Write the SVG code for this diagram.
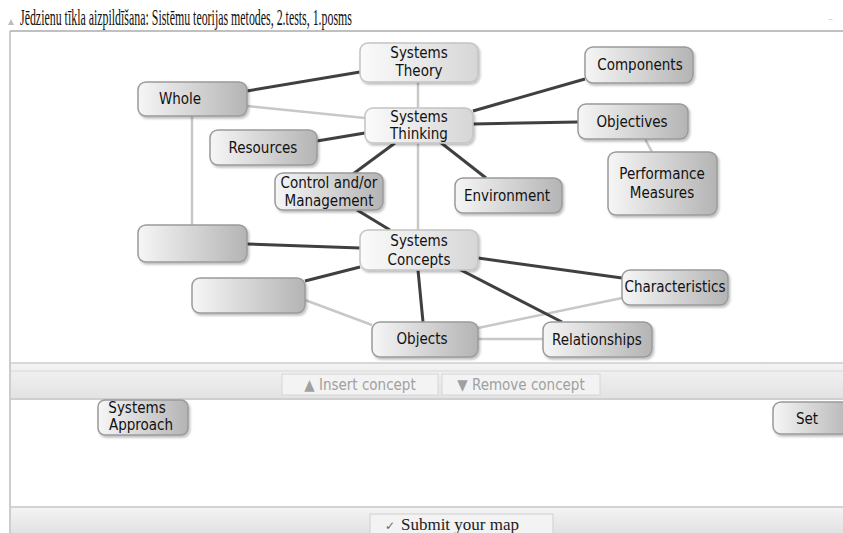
<svg xmlns="http://www.w3.org/2000/svg" width="843" height="533" viewBox="0 0 843 533">
  <defs>
    <linearGradient id="gNode" x1="0" y1="0" x2="1" y2="0">
      <stop offset="0" stop-color="#f6f6f6"/>
      <stop offset="1" stop-color="#b4b4b4"/>
    </linearGradient>
    <linearGradient id="gLight" x1="0" y1="0" x2="1" y2="0">
      <stop offset="0" stop-color="#fbfbfb"/>
      <stop offset="1" stop-color="#d6d6d6"/>
    </linearGradient>
    <linearGradient id="gBar" x1="0" y1="0" x2="0" y2="1">
      <stop offset="0" stop-color="#f4f4f4"/>
      <stop offset="1" stop-color="#e2e2e2"/>
    </linearGradient>
    <filter id="sh" x="-10%" y="-10%" width="130%" height="140%">
      <feDropShadow dx="1.5" dy="2" stdDeviation="1.2" flood-color="#000" flood-opacity="0.25"/>
    </filter>
  </defs>
  <style>
    .node rect { fill: url(#gNode); stroke: #9a9a9a; stroke-width: 1.5; filter: url(#sh); }
    .node.light rect { fill: url(#gLight); stroke: #c4c4c4; }
    .node text { font-family: "DejaVu Sans Condensed", "DejaVu Sans", sans-serif; font-size: 15px; fill: #111; text-anchor: middle; }
    .dark { stroke: #404040; stroke-width: 3; fill: none; }
    .pale { stroke: #c8c8c8; stroke-width: 2.5; fill: none; }
    .tool text { font-family: "DejaVu Sans Condensed", sans-serif; font-size: 15px; fill: #a0a0a0; text-anchor: middle; }
    .title { font-family: "Liberation Serif", serif; font-size: 23px; fill: #111; }
  </style>

  <!-- window background -->
  <rect x="0" y="0" width="843" height="533" fill="#ffffff"/>
  <line x1="10" y1="31" x2="843" y2="31" stroke="#c0c0c0" stroke-width="2"/>
  <polygon points="8,25 11,19 14,25" fill="#bdbdbd"/>
  <text class="title" x="20" y="25" textLength="332" lengthAdjust="spacingAndGlyphs">Jēdzienu tīkla aizpildīšana: Sistēmu teorijas metodes, 2.tests, 1.posms</text>
  <text x="828" y="22" font-family="DejaVu Sans, sans-serif" font-size="10" fill="#cfcfcf">–</text>
  <line x1="10" y1="31" x2="10" y2="533" stroke="#bdbdbd" stroke-width="1.5"/>

  <!-- connectors -->
  <g id="connectors">
    <line class="pale" x1="418" y1="82" x2="418" y2="230"/>
    <line class="pale" x1="247" y1="106" x2="365" y2="118"/>
    <line class="pale" x1="192" y1="116" x2="192" y2="225"/>
    <line class="pale" x1="645" y1="139" x2="652" y2="152"/>
    <line class="pale" x1="305" y1="300" x2="372" y2="325"/>
    <line class="pale" x1="478" y1="328" x2="622" y2="298"/>
    <line class="pale" x1="478" y1="339" x2="543" y2="339"/>

    <line class="dark" x1="247" y1="91" x2="360" y2="72"/>
    <line class="dark" x1="365" y1="133" x2="317" y2="141"/>
    <line class="dark" x1="473" y1="111" x2="585" y2="79"/>
    <line class="dark" x1="473" y1="124" x2="578" y2="122"/>
    <line class="dark" x1="395" y1="143" x2="353" y2="174"/>
    <line class="dark" x1="440" y1="142" x2="486" y2="178"/>
    <line class="dark" x1="357" y1="210" x2="390" y2="230"/>
    <line class="dark" x1="247" y1="244" x2="360" y2="248"/>
    <line class="dark" x1="305" y1="281" x2="360" y2="267"/>
    <line class="dark" x1="418" y1="270" x2="423" y2="322"/>
    <line class="dark" x1="478" y1="258" x2="622" y2="278"/>
    <line class="dark" x1="457" y1="268" x2="562" y2="322"/>
  </g>

  <!-- concept nodes -->
  <g id="systems-theory" class="node light">
    <rect x="360" y="43" width="118" height="39" rx="8"/>
    <text x="419" y="58">Systems</text>
    <text x="419" y="76">Theory</text>
  </g>
  <g id="whole" class="node">
    <rect x="138" y="82" width="109" height="34" rx="8"/>
    <text x="180" y="104">Whole</text>
  </g>
  <g id="systems-thinking" class="node light">
    <rect x="365" y="108" width="108" height="35" rx="8"/>
    <text x="419" y="122">Systems</text>
    <text x="419" y="139">Thinking</text>
  </g>
  <g id="components" class="node">
    <rect x="585" y="47" width="108" height="36" rx="8"/>
    <text x="640" y="70">Components</text>
  </g>
  <g id="objectives" class="node">
    <rect x="578" y="104" width="110" height="35" rx="8"/>
    <text x="632" y="127">Objectives</text>
  </g>
  <g id="resources" class="node">
    <rect x="210" y="130" width="107" height="35" rx="8"/>
    <text x="263" y="153">Resources</text>
  </g>
  <g id="control-management" class="node">
    <rect x="275" y="173" width="108" height="37" rx="8"/>
    <text x="329" y="188" font-size="14">Control and/or</text>
    <text x="329" y="206" font-size="14">Management</text>
  </g>
  <g id="environment" class="node">
    <rect x="455" y="178" width="107" height="35" rx="8"/>
    <text x="507" y="201">Environment</text>
  </g>
  <g id="performance-measures" class="node">
    <rect x="608" y="152" width="109" height="63" rx="8"/>
    <text x="662" y="179">Performance</text>
    <text x="662" y="198">Measures</text>
  </g>
  <g id="empty-a" class="node">
    <rect x="138" y="225" width="109" height="37" rx="8"/>
  </g>
  <g id="systems-concepts" class="node light">
    <rect x="360" y="230" width="118" height="40" rx="8"/>
    <text x="419" y="246">Systems</text>
    <text x="419" y="265">Concepts</text>
  </g>
  <g id="empty-b" class="node">
    <rect x="192" y="278" width="113" height="35" rx="8"/>
  </g>
  <g id="characteristics" class="node">
    <rect x="622" y="270" width="106" height="35" rx="8"/>
    <text x="675" y="292" font-size="14">Characteristics</text>
  </g>
  <g id="objects" class="node">
    <rect x="372" y="322" width="106" height="35" rx="8"/>
    <text x="422" y="344">Objects</text>
  </g>
  <g id="relationships" class="node">
    <rect x="543" y="322" width="109" height="35" rx="8"/>
    <text x="597" y="345">Relationships</text>
  </g>

  <!-- toolbar strip -->
  <g id="toolbar" class="tool">
    <rect x="11" y="362" width="832" height="38" fill="url(#gBar)"/>
    <line x1="11" y1="363" x2="843" y2="363" stroke="#cfcfcf" stroke-width="1.5"/>
    <line x1="11" y1="371" x2="843" y2="371" stroke="#d8d8d8" stroke-width="1"/>
    <line x1="11" y1="399" x2="843" y2="399" stroke="#c8c8c8" stroke-width="1.5"/>
    <rect x="282" y="374" width="156" height="21" fill="#f3f3f3" stroke="#d6d6d6"/>
    <rect x="442" y="374" width="158" height="21" fill="#f3f3f3" stroke="#d6d6d6"/>
    <text x="360" y="390">▲ Insert concept</text>
    <text x="521" y="390">▼ Remove concept</text>
  </g>

  <!-- unplaced concepts -->
  <g id="systems-approach" class="node">
    <rect x="98" y="400" width="90" height="35" rx="7"/>
    <text x="137" y="413" font-size="14">Systems</text>
    <text x="141" y="430" font-size="14">Approach</text>
  </g>
  <g id="set" class="node">
    <rect x="773" y="402" width="80" height="32" rx="8"/>
    <text x="807" y="424">Set</text>
  </g>

  <!-- bottom bar -->
  <g id="submit-bar">
    <rect x="11" y="507" width="832" height="26" fill="url(#gBar)"/>
    <line x1="11" y1="507" x2="843" y2="507" stroke="#c6c6c6" stroke-width="1.5"/>
    <rect x="370" y="514" width="183" height="22" fill="#f3f3f3" stroke="#cfcfcf"/>
    <text x="385" y="530" font-family="DejaVu Sans, sans-serif" font-size="12" fill="#666">✓</text>
    <text x="460" y="530" font-family="Liberation Serif, serif" font-size="17" fill="#222" text-anchor="middle">Submit your map</text>
  </g>
</svg>
